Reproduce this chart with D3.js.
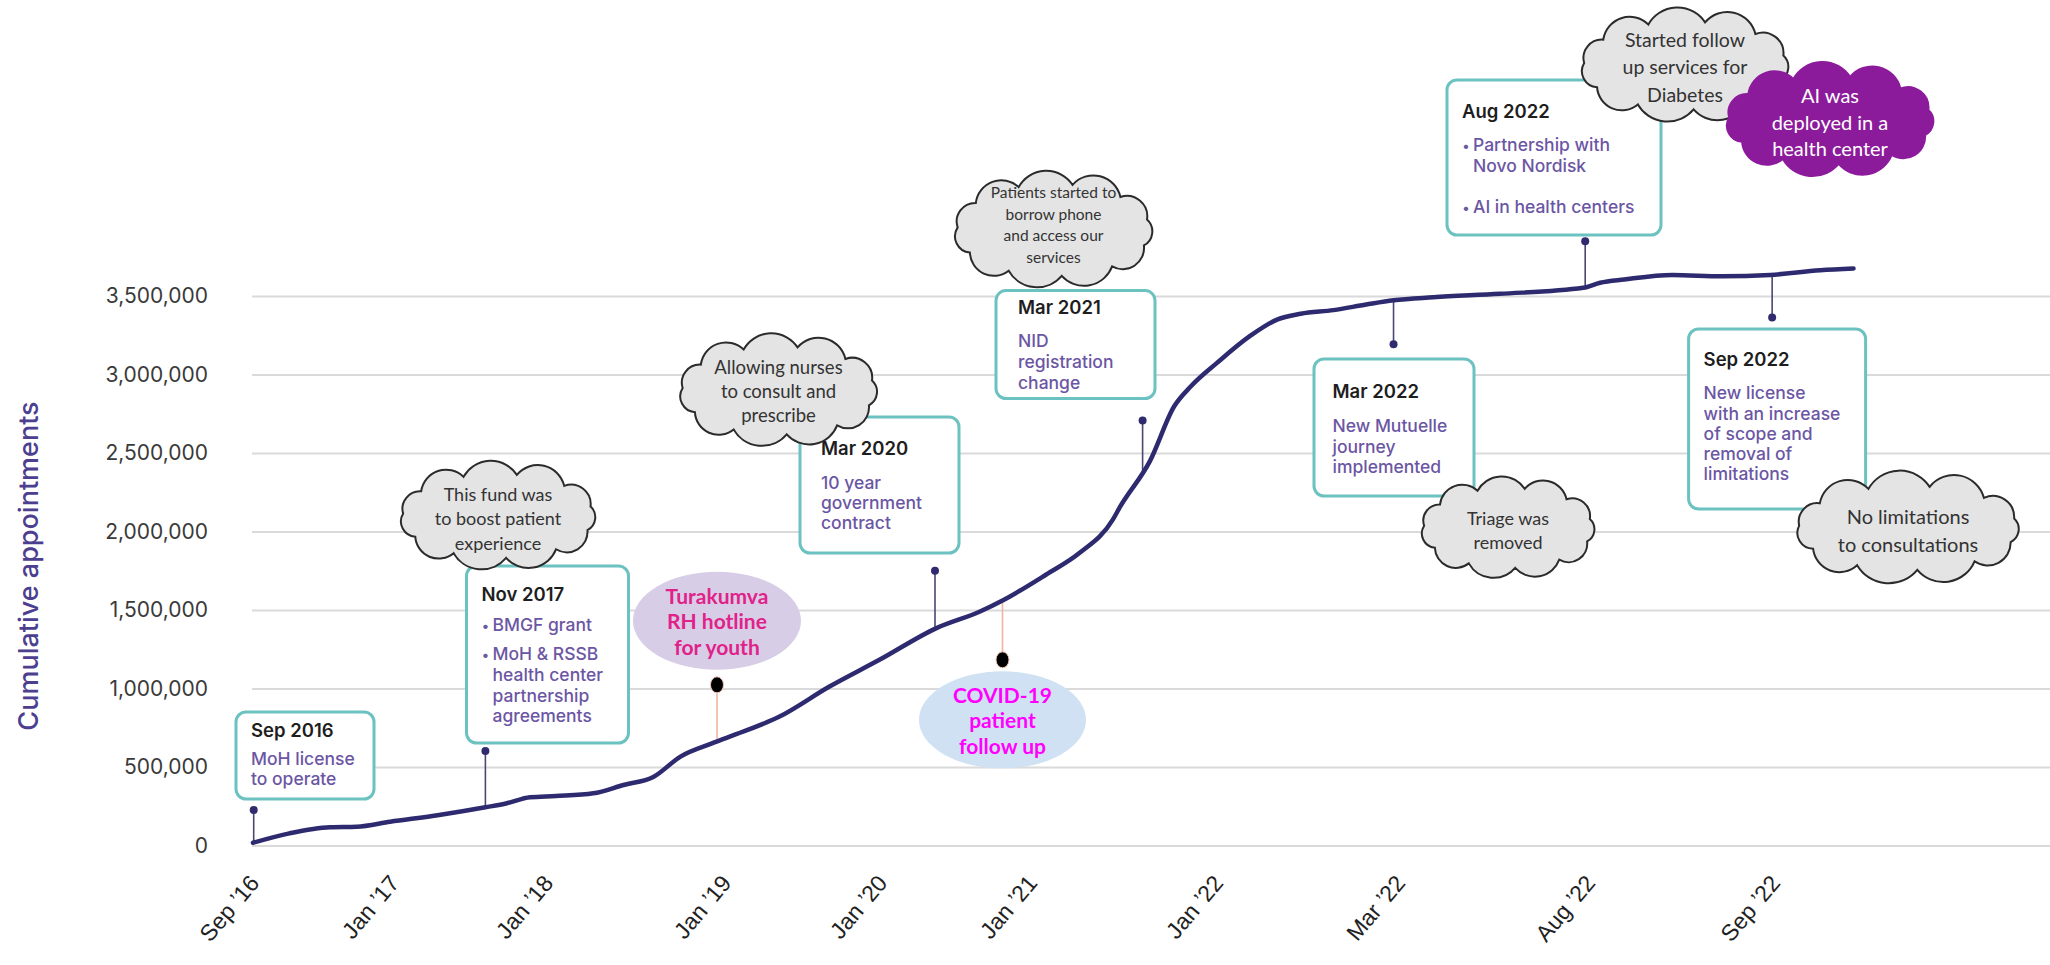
<!DOCTYPE html>
<html><head><meta charset="utf-8">
<script src="https://cdn.jsdelivr.net/npm/d3@7"></script>
<style>html,body{margin:0;padding:0;background:#fff;} svg{display:block;}</style>
</head><body>
<svg id="chart" width="2050" height="965"></svg>
<script>
// ---------- DATA ----------
const xTickLabels = ["Sep \u201916","Jan \u201917","Jan \u201918","Jan \u201919","Jan \u201920","Jan \u201921","Jan \u201922","Mar \u201922","Aug \u201922","Sep \u201922"];
const yTickValues = [0, 500000, 1000000, 1500000, 2000000, 2500000, 3000000, 3500000];
// timeline position (in tick units) and cumulative appointments
const seriesT = [0, 0.26, 0.55, 0.74, 0.98, 1.3, 1.6, 1.74, 1.89, 2.05, 2.26, 2.43, 2.6, 2.75, 2.93, 3.03, 3.35, 3.67, 3.99, 4.37, 4.66, 4.82, 5.08, 5.26, 5.44, 5.48, 5.64, 5.77, 5.86, 6.0, 6.18, 6.33, 6.46, 6.64, 6.82, 6.97, 7.18, 7.53, 7.97, 8.06, 8.19, 8.45, 8.72, 8.98, 9.25, 9.43];
const seriesV = [18000, 78000, 117000, 120000, 152000, 195000, 244000, 270000, 308000, 316000, 333000, 386000, 439000, 567000, 652000, 694000, 822000, 1013000, 1183000, 1385000, 1491000, 1566000, 1725000, 1863000, 2076000, 2160000, 2450000, 2798000, 2925000, 3074000, 3244000, 3350000, 3387000, 3410000, 3446000, 3473000, 3492000, 3514000, 3552000, 3584000, 3605000, 3634000, 3625000, 3634000, 3664000, 3675000];

// milestone events (stems)
const eventT = [0.005, 1.6, 4.36, 5.6, 6.97, 7.98, 8.99];
const eventDotV = [227000, 603000, 1751000, 2707000, 3193000, 3849000, 3363000];
const eventTitles = ["Sep 2016", "Nov 2017", "Mar 2020", "Mar 2021", "Mar 2022", "Aug 2022", "Sep 2022"];
const eventBodies = [
  ["MoH license", "to operate"],
  ["\u2022BMGF grant", "\u2022MoH & RSSB", "health center", "partnership", "agreements"],
  ["10 year", "government", "contract"],
  ["NID", "registration", "change"],
  ["New Mutuelle", "journey", "implemented"],
  ["\u2022Partnership with", "Novo Nordisk", "\u2022AI in health centers"],
  ["New license", "with an increase", "of scope and", "removal of", "limitations"]
];

// highlighted events (ellipses)
const hiT = [2.955, 4.81];
const hiDotV = [1024000, 1183000];
const hiTexts = [["Turakumva", "RH hotline", "for youth"], ["COVID-19", "patient", "follow up"]];

// cloud notes
const cloudTexts = [
  ["This fund was", "to boost patient", "experience"],
  ["Allowing nurses", "to consult and", "prescribe"],
  ["Patients started to", "borrow phone", "and access our", "services"],
  ["Triage was", "removed"],
  ["No limitations", "to consultations"],
  ["Started follow", "up services for", "Diabetes"],
  ["AI was", "deployed in a", "health center"]
];

// ---------- LAYOUT ----------
const W = 2050, H = 965;
const xTickPx = [253, 393, 547, 725, 881, 1031, 1217, 1399, 1589, 1774];
const plotLeft = 252, plotBottom = 845.6, plotTop = 296;

const boxLayout = [
  {x:236, y:712, w:138, h:87, pad:15, tdy:25, dys:[53,73]},
  {x:466.5, y:566, w:162, h:177, pad:15, tdy:34.5, dys:[65,94,115,135.5,156]},
  {x:800, y:417, w:159, h:136, pad:21, tdy:38, dys:[71.5,92,112]},
  {x:996, y:290.6, w:159, h:108, pad:22, tdy:23.4, dys:[56.5,77,98]},
  {x:1314, y:359, w:160, h:137, pad:18.5, tdy:39, dys:[72.5,93.5,113.5]},
  {x:1447, y:80, w:214, h:155, pad:15, tdy:38, dys:[71,91.5,132.5]},
  {x:1688.6, y:329, w:177, h:180, pad:15, tdy:36.5, dys:[70,90.5,110.5,131,151]}
];
const hiLayout = [
  {dy:-64, rx:84, ry:49, fill:"#d8cde6", color:"#e0228a", lh:25.5},
  {dy:60, rx:83.5, ry:48.5, fill:"#cfe1f3", color:"#ff00ff", lh:25.5}
];
const cloudLayout = [
  {cx:498, cy:516, rx:107, ry:53, fs:18, lh:24.5, ty:518, fill:"#e4e4e4", color:"#333"},
  {cx:778.5, cy:390.5, rx:108, ry:55, fs:18.5, lh:24, ty:391, fill:"#e4e4e4", color:"#333"},
  {cx:1053.5, cy:230, rx:108, ry:57, fs:15.5, lh:21.8, ty:224.4, fill:"#e4e4e4", color:"#333"},
  {cx:1508, cy:528, rx:96, ry:51, fs:18, lh:23.6, ty:530, fill:"#e4e4e4", color:"#333"},
  {cx:1908, cy:528, rx:121, ry:53, fs:20, lh:27.4, ty:530, fill:"#e4e4e4", color:"#333"},
  {cx:1685, cy:65.5, rx:113, ry:55, fs:19.5, lh:27.5, ty:66.7, fill:"#e4e4e4", color:"#333"},
  {cx:1830, cy:120, rx:113, ry:55, fs:20, lh:26.5, ty:121.7, fill:"#8c1b9c", color:"#ffffff"}
];

// ---------- SCALES ----------
const svg = d3.select("#chart");
const x = d3.scaleLinear().domain(d3.range(xTickLabels.length)).range(xTickPx);
const y = d3.scaleLinear().domain([0, 3500000]).range([plotBottom, plotTop]);
const series = seriesT.map((t, i) => ({t, v: seriesV[i]}));
function seriesAt(t) {
  const i = d3.bisector(d => d.t).left(series, t);
  if (i <= 0) return series[0].v;
  if (i >= series.length) return series[series.length - 1].v;
  const a = series[i - 1], b = series[i];
  return a.v + (b.v - a.v) * (t - a.t) / (b.t - a.t);
}

// ---------- AXES ----------
const yAxis = svg.append("g").attr("transform", `translate(${plotLeft},0)`)
  .call(d3.axisLeft(y).tickValues(yTickValues).tickSize(-(W - plotLeft)).tickPadding(44).tickFormat(d3.format(",")));
yAxis.select(".domain").remove();
yAxis.selectAll(".tick line").attr("stroke", "#dadada").attr("stroke-width", 2);
yAxis.selectAll(".tick text").attr("fill", "#3a3a3a").style("font-family", "Inter, 'DejaVu Sans', sans-serif").style("font-size", "21px");

const xAxis = svg.append("g").attr("transform", `translate(0,${plotBottom})`)
  .call(d3.axisBottom(x).tickValues(d3.range(xTickLabels.length)).tickFormat(i => xTickLabels[i]).tickSize(0));
xAxis.select(".domain").remove();
xAxis.selectAll(".tick text")
  .attr("x", 0).attr("y", 0).attr("dy", 0)
  .attr("text-anchor", "end")
  .attr("transform", "translate(7,38) rotate(-50)")
  .attr("fill", "#222")
  .style("font-family", "'Liberation Sans', Arial, sans-serif").style("font-size", "23px");

svg.append("text")
  .attr("transform", "translate(28,566) rotate(-90)")
  .attr("text-anchor", "middle").attr("dominant-baseline", "central")
  .attr("fill", "#4d3f8f")
  .style("font-family", "Inter, sans-serif").style("font-size", "27px").style("font-weight", 500)
  .text("Cumulative appointments");

// ---------- STEMS ----------
const stems = svg.append("g");
eventT.forEach((t, i) => {
  stems.append("line")
    .attr("x1", x(t)).attr("x2", x(t))
    .attr("y1", y(eventDotV[i])).attr("y2", y(seriesAt(t)))
    .attr("stroke", "#4a4770").attr("stroke-width", 1.6);
  stems.append("circle").attr("cx", x(t)).attr("cy", y(eventDotV[i])).attr("r", 4).attr("fill", "#2f2b6e");
});
hiT.forEach((t, i) => {
  stems.append("line")
    .attr("x1", x(t)).attr("x2", x(t))
    .attr("y1", y(hiDotV[i])).attr("y2", y(seriesAt(t)))
    .attr("stroke", "#f2b3a3").attr("stroke-width", 1.6);
});

// ---------- LINE ----------
svg.append("path").datum(series)
  .attr("fill", "none").attr("stroke", "#2e2a6f").attr("stroke-width", 4.5)
  .attr("stroke-linecap", "round").attr("stroke-linejoin", "round")
  .attr("d", d3.line().x(d => x(d.t)).y(d => y(d.v)).curve(d3.curveMonotoneX));

hiT.forEach((t, i) => {
  svg.append("ellipse").attr("cx", x(t)).attr("cy", y(hiDotV[i])).attr("rx", 6.5).attr("ry", 8)
    .attr("fill", "#000").attr("stroke", "#f4c7b8").attr("stroke-width", 1);
});

// ---------- BOXES ----------
const boxes = svg.append("g");
boxLayout.forEach((b, i) => {
  const g = boxes.append("g").attr("transform", `translate(${b.x},${b.y})`);
  g.append("rect").attr("width", b.w).attr("height", b.h).attr("rx", 10)
    .attr("fill", "#fff").attr("stroke", "#6cc2c0").attr("stroke-width", 3);
  g.append("text").attr("x", b.pad).attr("y", b.tdy).attr("fill", "#1e1e1e")
    .style("font-family", "Inter, sans-serif").style("font-size", "18.5px").style("font-weight", 600)
    .text(eventTitles[i]);
  const hasBullets = eventBodies[i].some(l => l.startsWith("\u2022"));
  eventBodies[i].forEach((line, j) => {
    const bullet = line.startsWith("\u2022");
    const tx = b.pad + (hasBullets ? 11 : 0);
    if (bullet) {
      g.append("text").attr("x", b.pad).attr("y", b.dys[j]).attr("fill", "#6b5a9e")
        .style("font-family", "Inter, sans-serif").style("font-size", "14px").text("\u2022");
    }
    g.append("text").attr("x", tx).attr("y", b.dys[j]).attr("fill", "#6b56a4")
      .style("font-family", "Inter, sans-serif").style("font-size", "17.5px").style("font-weight", 500)
      .text(bullet ? line.slice(1) : line);
  });
});

// ---------- HIGHLIGHT ELLIPSES ----------
hiT.forEach((t, i) => {
  const L = hiLayout[i];
  const cx = x(t), cy = y(hiDotV[i]) + L.dy;
  svg.append("ellipse").attr("cx", cx).attr("cy", cy).attr("rx", L.rx).attr("ry", L.ry).attr("fill", L.fill);
  const n = hiTexts[i].length;
  hiTexts[i].forEach((s, j) => {
    svg.append("text").attr("x", cx).attr("y", cy + (j - (n - 1) / 2) * L.lh)
      .attr("text-anchor", "middle").attr("dominant-baseline", "central")
      .attr("fill", L.color)
      .style("font-family", "Lato, sans-serif").style("font-size", "21px").style("font-weight", 700)
      .text(s);
  });
});

// ---------- CLOUDS ----------
function cloudPath(cx, cy, rx, ry, n) {
  const irx = rx - 12, iry = ry - 11;
  const pts = d3.range(n).map(k => {
    const a = -Math.PI / 2 + 0.2 + k * 2 * Math.PI / n;
    return [cx + irx * Math.cos(a), cy + iry * Math.sin(a)];
  });
  let d = `M${pts[0][0]},${pts[0][1]}`;
  for (let k = 0; k < n; k++) {
    const p = pts[k], q = pts[(k + 1) % n];
    const c = Math.hypot(q[0] - p[0], q[1] - p[1]);
    const r = c * (0.56 + 0.05 * ((k * 7) % 3) / 2);
    d += ` A${r},${r} 0 0 1 ${q[0]},${q[1]}`;
  }
  return d + "Z";
}
cloudLayout.forEach((c, i) => {
  const g = svg.append("g");
  g.append("path").attr("d", cloudPath(c.cx, c.cy, c.rx, c.ry, 11))
    .attr("fill", c.fill).attr("stroke", c.fill === "#e4e4e4" ? "#2b2b2b" : "#8c1b9c").attr("stroke-width", 2);
  const n = cloudTexts[i].length;
  cloudTexts[i].forEach((s, j) => {
    g.append("text").attr("x", c.cx).attr("y", c.ty + (j - (n - 1) / 2) * c.lh)
      .attr("text-anchor", "middle").attr("dominant-baseline", "central")
      .attr("fill", c.color)
      .style("font-family", "Lato, sans-serif").style("font-size", c.fs + "px")
      .text(s);
  });
});
</script>
</body></html>
